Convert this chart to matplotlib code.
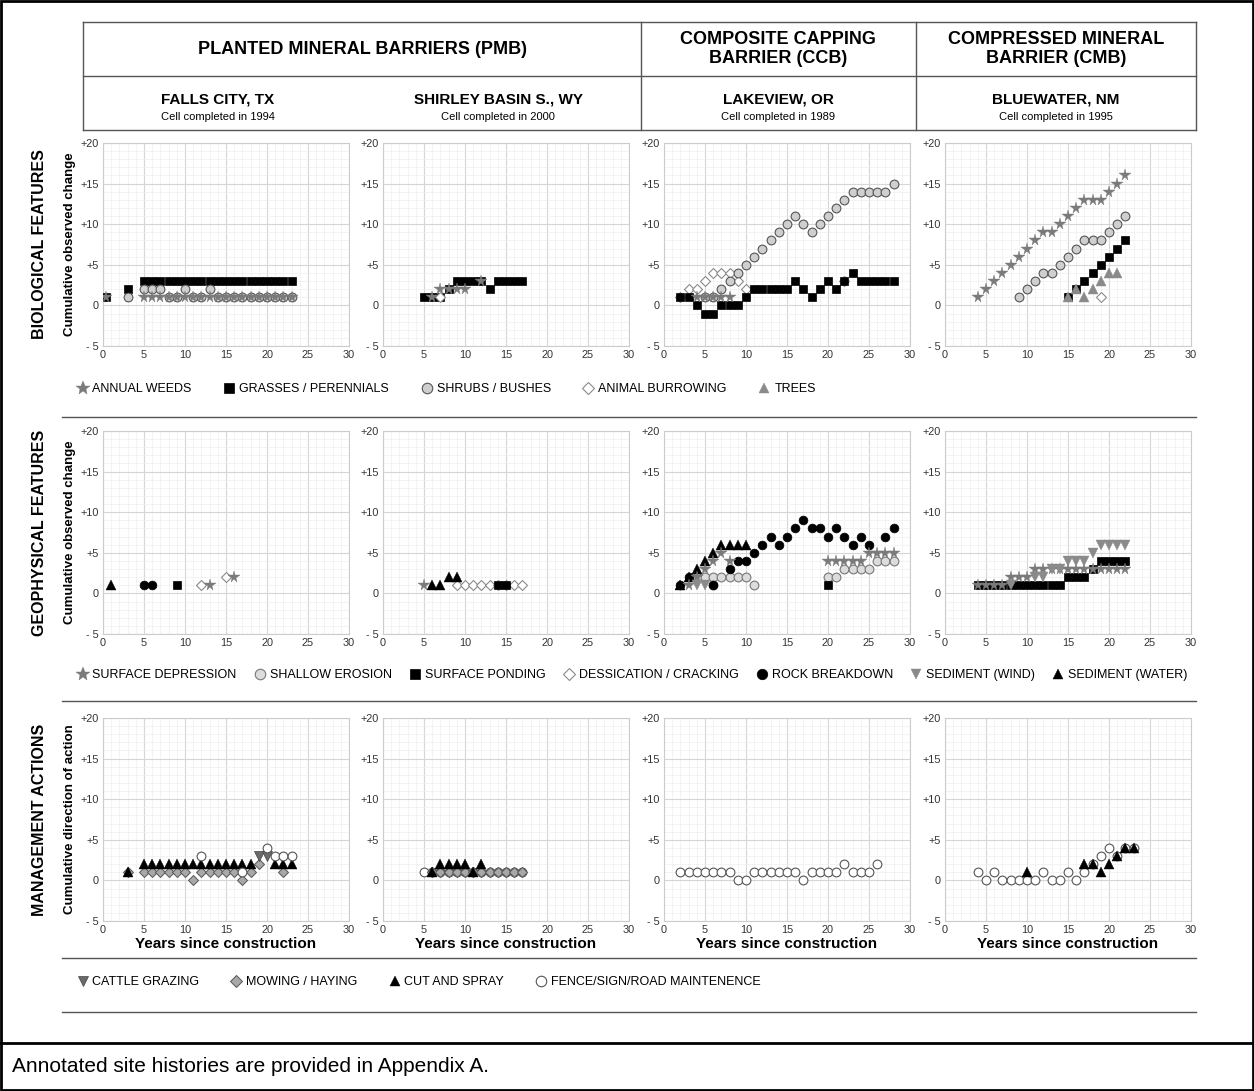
import numpy as np
import matplotlib.pyplot as plt
from matplotlib.lines import Line2D
from matplotlib.patches import Rectangle

plt.rcParams['font.family'] = ['Liberation Sans', 'DejaVu Sans']

# ---------------- data: (years since construction, cumulative change) ----------------
# biological features
fc_grass_x = [0.4, 3, 5, 6, 7, 8, 9, 10, 11, 12, 13, 14, 15, 16, 17, 18, 19, 20, 21, 22, 23]
fc_grass_y = [1, 2, 3, 3, 3, 3, 3, 3, 3, 3, 3, 3, 3, 3, 3, 3, 3, 3, 3, 3, 3]
fc_shrub_x = [3, 5, 6, 7, 10, 13, 8, 9, 11, 12, 14, 15, 16, 17, 18, 19, 20, 21, 22, 23]
fc_shrub_y = [1, 2, 2, 2, 2, 2, 1, 1, 1, 1, 1, 1, 1, 1, 1, 1, 1, 1, 1, 1]
fc_weeds_x = [0.4, 5, 6, 7, 8, 9, 10, 11, 12, 13, 14, 15, 16, 17, 18, 19, 20, 21, 22, 23]
fc_weeds_y = [1, 1, 1, 1, 1, 1, 1, 1, 1, 1, 1, 1, 1, 1, 1, 1, 1, 1, 1, 1]

sb_grass_x = [5, 6, 7, 8, 9, 10, 11, 12, 13, 14, 15, 16, 17]
sb_grass_y = [1, 1, 1, 2, 3, 3, 3, 3, 2, 3, 3, 3, 3]
sb_weeds_x = [6, 7, 8, 9, 10, 12]
sb_weeds_y = [1, 2, 2, 2, 2, 3]
sb_burrow_x = [7]
sb_burrow_y = [1]

lv_grass_x = [2, 3, 4, 5, 6, 7, 8, 9, 10, 11, 12, 13, 14, 15, 16, 17, 18, 19, 20, 21, 22, 23, 24, 25, 26, 27, 28]
lv_grass_y = [1, 1, 0, -1, -1, 0, 0, 0, 1, 2, 2, 2, 2, 2, 3, 2, 1, 2, 3, 2, 3, 4, 3, 3, 3, 3, 3]
lv_shrub_x = [5, 6, 7, 8, 9, 10, 11, 12, 13, 14, 15, 16, 17, 18, 19, 20, 21, 22, 23, 24, 25, 26, 27, 28]
lv_shrub_y = [1, 1, 2, 3, 4, 5, 6, 7, 8, 9, 10, 11, 10, 9, 10, 11, 12, 13, 14, 14, 14, 14, 14, 15]
lv_weeds_x = [4, 5, 6, 7, 8]
lv_weeds_y = [1, 1, 1, 1, 1]
lv_burrow_x = [2, 3, 4, 5, 6, 7, 8, 9, 10, 22]
lv_burrow_y = [1, 2, 2, 3, 4, 4, 4, 3, 2, 3]

bw_weeds_x = [4, 5, 6, 7, 8, 9, 10, 11, 12, 13, 14, 15, 16, 17, 18, 19, 20, 21, 22]
bw_weeds_y = [1, 2, 3, 4, 5, 6, 7, 8, 9, 9, 10, 11, 12, 13, 13, 13, 14, 15, 16]
bw_shrub_x = [9, 10, 11, 12, 13, 14, 15, 16, 17, 18, 19, 20, 21, 22]
bw_shrub_y = [1, 2, 3, 4, 4, 5, 6, 7, 8, 8, 8, 9, 10, 11]
bw_grass_x = [15, 16, 17, 18, 19, 20, 21, 22]
bw_grass_y = [1, 2, 3, 4, 5, 6, 7, 8]
bw_trees_x = [15, 16, 17, 18, 19, 20, 21]
bw_trees_y = [1, 2, 1, 2, 3, 4, 4]
bw_burrow_x = [19]
bw_burrow_y = [1]

# geophysical features
fc_water_x = [1]
fc_water_y = [1]
fc_rock_x = [5, 6]
fc_rock_y = [1, 1]
fc_pond_x = [9]
fc_pond_y = [1]
fc_crack_x = [12, 15]
fc_crack_y = [1, 2]
fc_depr_x = [13, 16]
fc_depr_y = [1, 2]

sb_depr_x = [5]
sb_depr_y = [1]
sb_water_x = [6, 7, 8, 9]
sb_water_y = [1, 1, 2, 2]
sb_crack_x = [9, 10, 11, 12, 13, 14, 15, 16, 17]
sb_crack_y = [1, 1, 1, 1, 1, 1, 1, 1, 1]
sb_pond_x = [14, 15]
sb_pond_y = [1, 1]

lv_erosion_x = [4, 5, 6, 7, 8, 9, 10, 11, 6, 20, 21, 22, 23, 24, 25, 26, 27, 28]
lv_erosion_y = [2, 2, 2, 2, 2, 2, 2, 1, 1, 2, 2, 3, 3, 3, 3, 4, 4, 4]
lv_water_x = [2, 3, 4, 5, 6, 7, 8, 9, 10]
lv_water_y = [1, 2, 3, 4, 5, 6, 6, 6, 6]
lv_rock_x = [2, 3, 6, 8, 9, 10, 11, 12, 13, 14, 15, 16, 17, 18, 19, 20, 21, 22, 23, 24, 25, 27, 28]
lv_rock_y = [1, 2, 1, 3, 4, 4, 5, 6, 7, 6, 7, 8, 9, 8, 8, 7, 8, 7, 6, 7, 6, 7, 8]
lv_depr_x = [3, 4, 5, 6, 7, 8, 20, 21, 22, 23, 24, 25, 26, 27, 28]
lv_depr_y = [1, 2, 3, 4, 5, 4, 4, 4, 4, 4, 4, 5, 5, 5, 5]
lv_wind_x = [4, 5]
lv_wind_y = [1, 1]
lv_pond_x = [20]
lv_pond_y = [1]

bw_pond_x = [4, 5, 6, 7, 8, 9, 10, 11, 12, 13, 14, 15, 16, 17, 18, 19, 20, 21, 22]
bw_pond_y = [1, 1, 1, 1, 1, 1, 1, 1, 1, 1, 1, 2, 2, 2, 3, 4, 4, 4, 4]
bw_depr_x = [4, 5, 6, 7, 8, 9, 10, 11, 12, 13, 14, 15, 16, 17, 18, 19, 20, 21, 22]
bw_depr_y = [1, 1, 1, 1, 2, 2, 2, 3, 3, 3, 3, 3, 3, 3, 3, 3, 3, 3, 3]
bw_wind_x = [8, 11, 12, 13, 14, 15, 16, 17, 18, 19, 20, 21, 22]
bw_wind_y = [1, 2, 2, 3, 3, 4, 4, 4, 5, 6, 6, 6, 6]

# management actions
fc_mow_x = [3, 5, 6, 7, 8, 9, 10, 11, 12, 13, 14, 15, 16, 17, 18, 19, 22]
fc_mow_y = [1, 1, 1, 1, 1, 1, 1, 0, 1, 1, 1, 1, 1, 0, 1, 2, 1]
fc_cut_x = [3, 5, 6, 7, 8, 9, 10, 11, 12, 13, 14, 15, 16, 17, 18, 21, 22, 23]
fc_cut_y = [1, 2, 2, 2, 2, 2, 2, 2, 2, 2, 2, 2, 2, 2, 2, 2, 2, 2]
fc_cattle_x = [19, 20]
fc_cattle_y = [3, 3]
fc_fence_x = [12, 17, 20, 21, 22, 23]
fc_fence_y = [3, 1, 4, 3, 3, 3]

sb_fence_x = [5, 6, 7, 8, 9, 10, 11, 12, 13, 14, 15, 16, 17]
sb_fence_y = [1, 1, 1, 1, 1, 1, 1, 1, 1, 1, 1, 1, 1]
sb_mow_x = [6, 7, 8, 9, 10, 11, 12, 13, 14, 15, 16, 17]
sb_mow_y = [1, 1, 1, 1, 1, 1, 1, 1, 1, 1, 1, 1]
sb_cut_x = [6, 7, 8, 9, 10, 11, 12]
sb_cut_y = [1, 2, 2, 2, 2, 1, 2]

lv_fence_x = [2, 3, 4, 5, 6, 7, 8, 9, 10, 11, 12, 13, 14, 15, 16, 17, 18, 19, 20, 21, 22, 23, 24, 25, 26]
lv_fence_y = [1, 1, 1, 1, 1, 1, 1, 0, 0, 1, 1, 1, 1, 1, 1, 0, 1, 1, 1, 1, 2, 1, 1, 1, 2]

bw_fence_x = [4, 5, 6, 7, 8, 9, 10, 11, 12, 13, 14, 15, 16, 17, 18, 19, 20, 21, 22, 23]
bw_fence_y = [1, 0, 1, 0, 0, 0, 0, 0, 1, 0, 0, 1, 0, 1, 2, 3, 4, 3, 4, 4]
bw_cut_x = [10, 17, 18, 19, 20, 21, 22, 23]
bw_cut_y = [1, 2, 2, 1, 2, 3, 4, 4]

sites = ['FALLS CITY, TX', 'SHIRLEY BASIN S., WY', 'LAKEVIEW, OR', 'BLUEWATER, NM']
completed = ['1994', '2000', '1989', '1995']
row_titles = ['BIOLOGICAL FEATURES', 'GEOPHYSICAL FEATURES', 'MANAGEMENT ACTIONS']

# ---------------- marker styles ----------------
STYLE = {
    'weeds':   dict(marker='*', ms=8.5, mfc='#7a7a7a', mec='#7a7a7a', mew=0.3),
    'grass':   dict(marker='s', ms=5.6, mfc='black', mec='black', mew=0.5),
    'shrub':   dict(marker='o', ms=6.3, mfc='#cfcfcf', mec='#555555', mew=0.8),
    'burrow':  dict(marker='D', ms=5.2, mfc='white', mec='#8a8a8a', mew=0.8),
    'trees':   dict(marker='^', ms=6.5, mfc='#8a8a8a', mec='#8a8a8a', mew=0.3),
    'depr':    dict(marker='*', ms=8.5, mfc='#7a7a7a', mec='#7a7a7a', mew=0.3),
    'erosion': dict(marker='o', ms=6.3, mfc='#dcdcdc', mec='#777777', mew=0.8),
    'pond':    dict(marker='s', ms=5.6, mfc='black', mec='black', mew=0.5),
    'crack':   dict(marker='D', ms=5.2, mfc='white', mec='#8a8a8a', mew=0.8),
    'rock':    dict(marker='o', ms=6.3, mfc='black', mec='black', mew=0.5),
    'wind':    dict(marker='v', ms=6.5, mfc='#8a8a8a', mec='#8a8a8a', mew=0.3),
    'water':   dict(marker='^', ms=6.5, mfc='black', mec='black', mew=0.3),
    'cattle':  dict(marker='v', ms=6.5, mfc='#6a6a6a', mec='#444444', mew=0.5),
    'mow':     dict(marker='D', ms=5.2, mfc='#a8a8a8', mec='#555555', mew=0.7),
    'cut':     dict(marker='^', ms=6.5, mfc='black', mec='black', mew=0.3),
    'fence':   dict(marker='o', ms=6.3, mfc='white', mec='#555555', mew=0.8),
}

panels = [
    [  # biological
        [('grass', fc_grass_x, fc_grass_y), ('shrub', fc_shrub_x, fc_shrub_y), ('weeds', fc_weeds_x, fc_weeds_y)],
        [('grass', sb_grass_x, sb_grass_y), ('weeds', sb_weeds_x, sb_weeds_y), ('burrow', sb_burrow_x, sb_burrow_y)],
        [('burrow', lv_burrow_x, lv_burrow_y), ('shrub', lv_shrub_x, lv_shrub_y), ('grass', lv_grass_x, lv_grass_y),
         ('weeds', lv_weeds_x, lv_weeds_y)],
        [('weeds', bw_weeds_x, bw_weeds_y), ('shrub', bw_shrub_x, bw_shrub_y), ('grass', bw_grass_x, bw_grass_y),
         ('trees', bw_trees_x, bw_trees_y), ('burrow', bw_burrow_x, bw_burrow_y)],
    ],
    [  # geophysical
        [('water', fc_water_x, fc_water_y), ('rock', fc_rock_x, fc_rock_y), ('pond', fc_pond_x, fc_pond_y),
         ('crack', fc_crack_x, fc_crack_y), ('depr', fc_depr_x, fc_depr_y)],
        [('crack', sb_crack_x, sb_crack_y), ('pond', sb_pond_x, sb_pond_y), ('water', sb_water_x, sb_water_y),
         ('depr', sb_depr_x, sb_depr_y)],
        [('erosion', lv_erosion_x, lv_erosion_y), ('rock', lv_rock_x, lv_rock_y), ('water', lv_water_x, lv_water_y),
         ('depr', lv_depr_x, lv_depr_y), ('wind', lv_wind_x, lv_wind_y), ('pond', lv_pond_x, lv_pond_y)],
        [('pond', bw_pond_x, bw_pond_y), ('depr', bw_depr_x, bw_depr_y), ('wind', bw_wind_x, bw_wind_y)],
    ],
    [  # management
        [('mow', fc_mow_x, fc_mow_y), ('cut', fc_cut_x, fc_cut_y), ('cattle', fc_cattle_x, fc_cattle_y),
         ('fence', fc_fence_x, fc_fence_y)],
        [('fence', sb_fence_x, sb_fence_y), ('mow', sb_mow_x, sb_mow_y), ('cut', sb_cut_x, sb_cut_y)],
        [('fence', lv_fence_x, lv_fence_y)],
        [('fence', bw_fence_x, bw_fence_y), ('cut', bw_cut_x, bw_cut_y)],
    ],
]

legends = [
    [('weeds', 'ANNUAL WEEDS'), ('grass', 'GRASSES / PERENNIALS'), ('shrub', 'SHRUBS / BUSHES'),
     ('burrow', 'ANIMAL BURROWING'), ('trees', 'TREES')],
    [('depr', 'SURFACE DEPRESSION'), ('erosion', 'SHALLOW EROSION'), ('pond', 'SURFACE PONDING'),
     ('crack', 'DESSICATION / CRACKING'), ('rock', 'ROCK BREAKDOWN'), ('wind', 'SEDIMENT (WIND)'),
     ('water', 'SEDIMENT (WATER)')],
    [('cattle', 'CATTLE GRAZING'), ('mow', 'MOWING / HAYING'), ('cut', 'CUT AND SPRAY'),
     ('fence', 'FENCE/SIGN/ROAD MAINTENENCE')],
]

# ---------------- figure ----------------
W, H = 1254, 1091
fig = plt.figure(figsize=(W / 100, H / 100), dpi=100)

col_left = [103, 383, 664, 945]
row_top = [143, 431, 718]
ax_w, ax_h = 246, 203

ov = fig.add_axes([0, 0, 1, 1])
ov.set_xlim(0, W)
ov.set_ylim(H, 0)
ov.axis('off')

for r in range(3):
    for c in range(4):
        ax = fig.add_axes([col_left[c] / W, 1 - (row_top[r] + ax_h) / H, ax_w / W, ax_h / H])
        for key, xs, ys in panels[r][c]:
            ax.plot(xs, ys, ls='none', zorder=3, **STYLE[key])
        ax.set_xlim(0, 30)
        ax.set_ylim(-5, 20)
        ax.set_xticks([0, 5, 10, 15, 20, 25, 30])
        ax.set_yticks([-5, 0, 5, 10, 15, 20])
        ax.set_yticklabels(['- 5', '0', '+5', '+10', '+15', '+20'])
        ax.set_xticks(np.arange(0, 31, 1), minor=True)
        ax.set_yticks(np.arange(-5, 21, 1), minor=True)
        ax.grid(which='major', color='#d6d6d6', lw=0.8)
        ax.grid(which='minor', color='#efefef', lw=0.5)
        ax.set_axisbelow(True)
        ax.tick_params(which='both', length=0, labelsize=7.8, colors='#333333', pad=3)
        for sp in ax.spines.values():
            sp.set_color('#cccccc')
            sp.set_linewidth(0.8)
        if c == 0:
            ax.set_ylabel('Cumulative direction of action' if r == 2 else 'Cumulative observed change',
                          fontsize=9.5, fontweight='bold', labelpad=3)
        if r == 2:
            ax.set_xlabel('Years since construction', fontsize=11, fontweight='bold', labelpad=1)

# row titles
for r, t in enumerate(row_titles):
    ov.text(40, row_top[r] + ax_h / 2, t, rotation=90, ha='center', va='center',
            fontsize=11.5, fontweight='bold')

# header table
lc = '#555555'
for y in [22, 76, 130]:
    ov.plot([83, 1196], [y, y], color=lc, lw=1)
for x in [83, 641, 916, 1196]:
    ov.plot([x, x], [22, 130], color=lc, lw=1)
ov.text(362, 49, 'PLANTED MINERAL BARRIERS (PMB)', ha='center', va='center', fontsize=13, fontweight='bold')
ov.text(778, 49, 'COMPOSITE CAPPING\nBARRIER (CCB)', ha='center', va='center', fontsize=13,
        fontweight='bold', linespacing=1.15)
ov.text(1056, 49, 'COMPRESSED MINERAL\nBARRIER (CMB)', ha='center', va='center', fontsize=13,
        fontweight='bold', linespacing=1.15)
for cx, s, yr in zip([218, 498, 778, 1056], sites, completed):
    ov.text(cx, 100, s, ha='center', va='center', fontsize=11, fontweight='bold')
    ov.text(cx, 117, 'Cell completed in ' + yr, ha='center', va='center', fontsize=8)

# separators
for y in [417, 701, 958, 1012]:
    ov.plot([62, 1196], [y, y], color=lc, lw=1)

# legends
for y, items, cs in zip([389, 675, 982], legends, [2.5, 1.35, 2.45]):
    handles = [Line2D([], [], ls='none', label=lab, **STYLE[k]) for k, lab in items]
    fig.legend(handles=handles, loc='center left', bbox_to_anchor=(70 / W, 1 - y / H),
               ncol=len(items), frameon=False, fontsize=9, handletextpad=0.3,
               columnspacing=cs, handlelength=1.0, markerscale=1.2, borderpad=0)

# outer frame and note
ov.add_patch(Rectangle((1, 1), W - 2, H - 2, fill=False, ec='black', lw=2))
ov.plot([0, W], [1043, 1043], color='black', lw=2)
ov.text(12, 1067, 'Annotated site histories are provided in Appendix A.', ha='left', va='center', fontsize=15)

fig.savefig('out.png', dpi=100)
